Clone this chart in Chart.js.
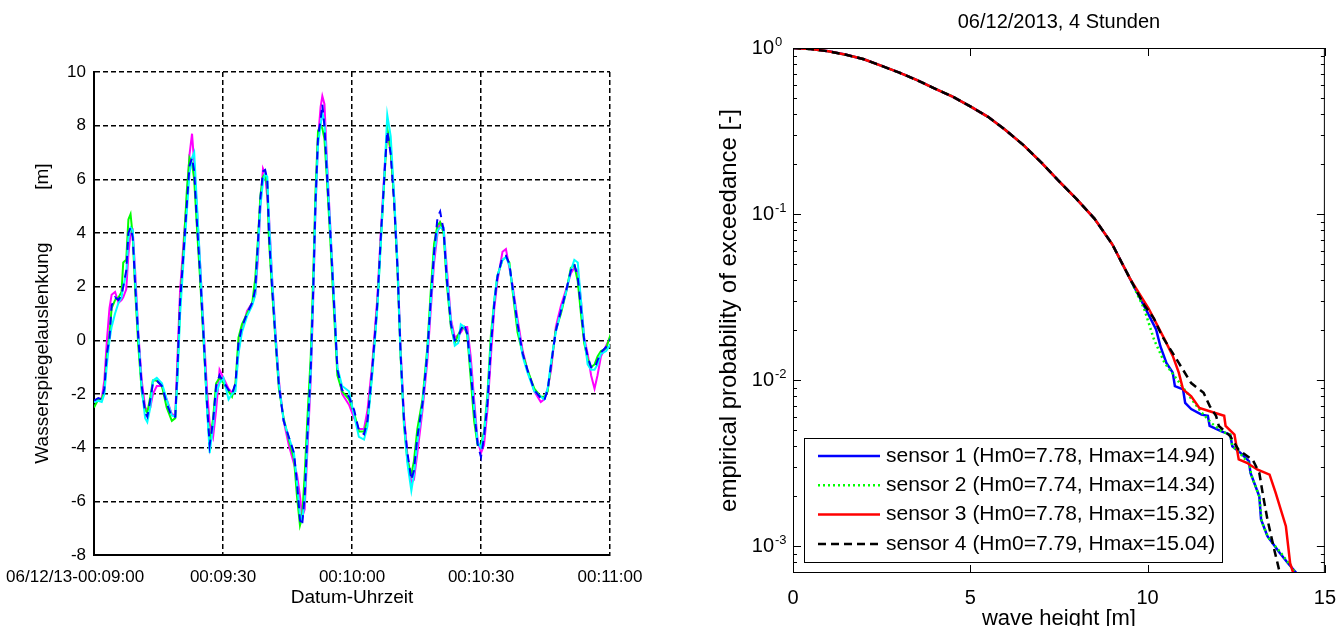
<!DOCTYPE html>
<html lang="de">
<head>
  <meta charset="UTF-8" />
  <title>Wasserspiegelauslenkung und Überschreitungswahrscheinlichkeit</title>
  <script src="https://cdn.jsdelivr.net/npm/chart.js"></script>
  <style>
    html, body { margin: 0; padding: 0; background: #fff; overflow: hidden; }
    #links { position: absolute; left: 0; top: 0; }
    #rechts { position: absolute; left: 660px; top: 0; }
  </style>
</head>
<body>
  <div id="links"><canvas id="graficoZeit" width="660" height="626"></canvas></div>
  <div id="rechts"><canvas id="graficoWellen" width="681" height="640"></canvas></div>

  <script>
    // --- linkes Diagramm: Zeitreihe (Sekunden ab 00:09:00) ---
    const zeit = [
      0, 1.0, 1.8, 2.4, 3.0, 3.6, 4.1, 4.9, 5.7, 6.4,
      6.8, 7.5, 8.0, 8.5, 9.0, 9.6, 10.3, 11.1, 11.9, 12.4,
      13.1, 13.7, 14.6, 15.8, 16.9, 18.1, 18.9, 19.4, 20.0, 20.8,
      21.6, 22.2, 22.8, 23.3, 23.9, 24.7, 25.5, 26.3, 26.9, 27.7,
      28.4, 29.2, 30.1, 31.3, 32.1, 32.9, 33.6, 34.4, 35.6, 36.8,
      37.5, 38.1, 38.7, 39.3, 39.8, 40.3, 40.7, 41.4, 42.2, 43.0,
      44.1, 45.3, 46.5, 47.2, 47.9, 48.4, 49.0, 49.6, 50.4, 51.0,
      51.5, 52.1, 52.7, 53.1, 53.6, 54.2, 55.0, 55.8, 56.6, 57.7,
      59.3, 60.5, 61.6, 62.8, 63.6, 64.7, 65.9, 66.7, 67.6, 68.2,
      69.0, 69.8, 70.6, 71.3, 72.1, 72.9, 73.8, 74.4, 75.2, 76.4,
      77.5, 78.3, 79.1, 79.9, 80.5, 81.3, 82.0, 83.0, 83.9, 84.7,
      85.3, 86.1, 86.8, 87.6, 88.4, 89.2, 90.0, 90.7, 91.5, 92.3,
      93.1, 93.8, 95.0, 95.8, 96.6, 97.3, 98.5, 99.7, 100.8, 102.4,
      103.9, 104.7, 105.5, 106.3, 107.4, 108.6, 109.8, 110.9, 111.7, 112.5,
      113.3, 114.0, 114.8, 115.6, 116.4, 117.1, 117.9, 119.1, 120.3, 120.9
    ];
    const sensorBlau = [
      -2.25, -2.15, -2.2, -1.8, -0.5, 0.1, 1.3, 1.6, 1.5, 1.7,
      2.0, 2.6, 4.0, 4.2, 3.85, 2.0, 0.1, -1.7, -2.7, -2.85,
      -2.2, -1.6, -1.5, -1.7, -2.35, -2.85, -2.85, -1.1, 1.4, 3.2,
      5.1, 6.5, 6.8, 6.3, 4.5, 2.4, 0.1, -2.4, -3.9, -3.0,
      -1.7, -1.3, -1.55, -1.85, -2.0, -1.6, -0.1, 0.5, 1.0, 1.4,
      1.9, 3.6, 5.3, 6.3, 6.35, 6.0, 3.9, 2.0, 0.1, -1.7,
      -3.0, -3.6, -4.2, -5.3, -6.7, -6.9, -5.8, -3.6, -1.1, 2.0,
      5.1, 7.6, 8.2, 8.8, 7.95, 6.1, 3.85, 1.4, -1.1, -1.85,
      -2.1, -2.6, -3.35, -3.5, -3.0, -1.1, 1.4, 3.85, 6.3, 7.8,
      6.95, 5.1, 2.6, -0.5, -3.0, -4.2, -5.2, -4.85, -3.6, -2.35,
      -0.5, 1.5, 3.3, 4.6, 4.8, 4.1, 2.35, 0.6, 0.0, 0.1,
      0.4, 0.6, 0.25, -1.1, -2.6, -3.85, -4.35, -3.6, -2.35, -0.25,
      1.4, 2.35, 3.1, 3.15, 2.85, 2.0, 0.6, -0.5, -1.1, -1.85,
      -2.15, -2.25, -1.85, -0.9, 0.35, 1.1, 1.85, 2.6, 2.85, 2.35,
      1.1, 0.0, -0.6, -1.0, -1.05, -0.75, -0.45, -0.25, 0.1, 0.35
    ];
    const sensorMagenta = [
      -2.3, -2.2, -2.15, -1.5, 0.0, 1.2, 1.7, 1.8, 1.4, 1.5,
      1.6, 1.9, 3.2, 4.0, 4.1, 2.5, 0.3, -1.5, -2.5, -2.6,
      -2.5, -2.0, -1.7, -1.7, -2.2, -2.75, -2.8, -0.7, 1.8, 3.6,
      5.3, 6.9, 7.7, 6.6, 5.0, 2.8, 0.4, -1.9, -3.1, -3.6,
      -2.6, -1.1, -1.4, -1.8, -1.95, -1.7, -0.4, 0.4, 1.1, 1.4,
      1.7, 3.0, 5.0, 6.4, 6.2, 5.3, 4.6, 2.4, 0.3, -1.5,
      -3.0, -3.9, -4.6, -5.0, -5.8, -6.6, -6.3, -4.2, -1.5, 1.6,
      4.8, 7.5, 8.7, 9.1, 8.8, 6.6, 4.1, 1.6, -1.0, -2.0,
      -2.4, -2.9, -3.3, -3.3, -2.6, -0.9, 1.6, 4.0, 6.5, 7.8,
      7.0, 5.3, 2.8, -0.3, -2.8, -4.3, -5.3, -5.2, -4.2, -2.6,
      -0.8, 1.1, 2.9, 4.0, 4.4, 4.2, 2.8, 0.8, 0.1, 0.2,
      0.3, 0.5, 0.5, -0.6, -2.2, -3.7, -4.2, -3.9, -2.6, -0.6,
      1.2, 2.2, 3.3, 3.4, 2.7, 2.1, 0.8, -0.4, -1.1, -1.9,
      -2.3, -2.2, -1.8, -1.1, 0.5, 1.3, 1.9, 2.5, 2.7, 2.6,
      1.4, 0.1, -0.5, -1.3, -1.8, -1.3, -0.6, -0.2, 0.2, 0.25
    ];
    const sensorGruen = [
      -2.5, -2.2, -2.2, -1.9, -0.6, 0.2, 1.2, 1.5, 1.6, 1.8,
      2.9, 3.0, 4.5, 4.7, 3.9, 1.8, -0.2, -1.9, -2.6, -2.7,
      -2.1, -1.5, -1.5, -1.7, -2.5, -3.0, -2.9, -1.3, 1.2, 3.3,
      5.6, 6.8, 6.6, 6.0, 4.3, 2.2, -0.1, -2.5, -3.9, -2.9,
      -1.6, -1.4, -1.6, -1.9, -2.1, -1.6, 0.1, 0.6, 1.0, 1.4,
      2.3, 3.7, 5.4, 6.1, 6.2, 5.7, 3.7, 1.9, 0.0, -1.8,
      -2.9, -3.7, -4.4, -5.8, -6.9, -6.6, -5.0, -3.0, -0.6, 2.5,
      5.5, 7.8, 8.0, 7.9, 7.5, 5.9, 3.6, 1.1, -1.3, -1.9,
      -2.2, -2.7, -3.4, -3.4, -3.0, -1.2, 1.3, 3.7, 6.2, 7.9,
      7.1, 5.2, 2.5, -0.6, -3.2, -4.5, -5.0, -4.5, -3.3, -2.2,
      -0.3, 1.8, 3.6, 4.3, 4.4, 4.0, 2.2, 0.5, -0.1, 0.2,
      0.4, 0.5, 0.2, -1.4, -3.0, -3.9, -3.9, -3.4, -2.0, 0.2,
      1.5, 2.4, 3.0, 3.1, 2.9, 1.9, 0.3, -0.5, -1.1, -1.8,
      -2.1, -2.1, -1.9, -0.9, 0.4, 1.0, 1.8, 2.7, 2.8, 2.2,
      0.9, -0.1, -0.7, -1.0, -0.9, -0.6, -0.4, -0.3, 0.3, 0.5
    ];
    const sensorCyan = [
      -2.3, -2.25, -2.3, -2.0, -0.9, 0.0, 0.5, 1.0, 1.4, 1.6,
      2.0, 2.5, 3.8, 4.2, 4.1, 2.2, 0.2, -1.8, -2.9, -3.05,
      -2.5, -1.5, -1.4, -1.6, -2.2, -2.8, -2.85, -1.5, 0.9, 2.9,
      4.8, 6.2, 6.8, 7.0, 5.2, 2.8, 0.2, -2.6, -4.2, -3.2,
      -2.0, -1.6, -1.4, -2.2, -2.0, -1.9, -0.5, 0.3, 0.9, 1.3,
      1.7, 3.3, 5.0, 5.9, 6.2, 6.1, 4.5, 2.3, 0.2, -1.6,
      -3.0, -3.6, -4.2, -5.3, -6.5, -6.7, -6.0, -3.8, -1.2, 1.9,
      5.0, 7.3, 8.0, 8.5, 8.1, 6.4, 4.0, 1.6, -1.0, -1.7,
      -1.9, -2.8, -3.6, -3.7, -3.2, -1.3, 1.2, 3.6, 6.4, 8.4,
      7.6, 5.4, 2.8, -0.5, -3.1, -4.6, -5.6, -5.0, -3.8, -2.4,
      -0.5, 1.4, 3.2, 4.1, 4.2, 4.2, 2.5, 0.7, -0.2, -0.1,
      0.6, 0.5, 0.3, -1.0, -2.5, -3.8, -4.0, -3.5, -2.2, -0.1,
      1.5, 2.4, 3.0, 3.1, 2.8, 2.0, 0.6, -0.6, -1.2, -1.9,
      -2.1, -2.2, -1.8, -0.8, 0.3, 1.1, 1.8, 2.6, 3.0, 2.9,
      1.4, 0.1, -0.9, -1.1, -1.1, -0.9, -0.5, -0.4, -0.1, 0.2
    ];
    const zeitLabels = ['06/12/13-00:09:00', '00:09:30', '00:10:00', '00:10:30', '00:11:00'];

    // --- rechtes Diagramm: Überschreitungswahrscheinlichkeit ---
    const hoeheOben = [0, 0.5, 1.0, 1.5, 2.0, 2.5, 3.0, 3.5, 4.0, 4.5, 5.0, 5.5, 6.0, 6.5, 7.0, 7.5, 8.0, 8.5, 9.0, 9.5];
    const pOben = [1.0, 0.985, 0.955, 0.91, 0.855, 0.78, 0.71, 0.64, 0.57, 0.51, 0.445, 0.385, 0.32, 0.26, 0.205, 0.158, 0.123, 0.094, 0.066, 0.041];

    const hoehe1 = [10.0, 10.24, 10.36, 10.53, 10.71, 10.77, 11.0, 11.06, 11.23, 11.52, 11.7, 11.75, 12.1, 12.33, 12.39, 12.62, 12.86, 12.9, 13.15, 13.2, 13.38, 13.73, 13.96, 14.3];
    const p1 = [0.0255, 0.0202, 0.016, 0.0127, 0.0111, 0.0092, 0.0088, 0.0073, 0.0067, 0.0062, 0.0061, 0.0053, 0.0049, 0.0047, 0.0040, 0.00365, 0.00325, 0.00277, 0.0020, 0.00145, 0.00115, 0.00091, 0.00079, 0.00065];
    const hoehe2 = [9.9, 10.18, 10.48, 10.83, 11.18, 11.52, 11.81, 12.1, 12.33, 12.39, 12.62, 12.88, 12.92, 13.15, 13.22, 13.4, 13.78, 14.0, 14.3];
    const p2 = [0.027, 0.0176, 0.0127, 0.0101, 0.008, 0.0064, 0.0055, 0.0049, 0.0047, 0.0040, 0.0036, 0.0031, 0.0027, 0.0020, 0.0014, 0.00113, 0.0009, 0.00078, 0.00063];
    const hoehe3 = [10.03, 10.48, 10.71, 10.88, 11.0, 11.23, 11.46, 11.75, 12.16, 12.2, 12.45, 12.57, 12.8, 13.09, 13.44, 13.61, 13.9, 14.02, 14.2];
    const p3 = [0.027, 0.0176, 0.014, 0.0111, 0.0088, 0.008, 0.0068, 0.0065, 0.0061, 0.0053, 0.0047, 0.00333, 0.00318, 0.0029, 0.0027, 0.0021, 0.00132, 0.00079, 0.0006];
    const hoehe4 = [9.9, 10.18, 10.41, 10.88, 11.23, 11.58, 11.75, 11.93, 12.01, 12.33, 12.57, 12.97, 13.15, 13.26, 13.38, 13.55, 13.73, 13.8];
    const p4 = [0.0285, 0.0235, 0.0184, 0.0127, 0.0096, 0.0084, 0.0070, 0.0061, 0.0053, 0.0046, 0.0038, 0.0033, 0.00277, 0.0020, 0.00145, 0.0010, 0.00069, 0.0006];

    const sensorNamen = [
      'sensor 1 (Hm0=7.78, Hmax=14.94)',
      'sensor 2 (Hm0=7.74, Hmax=14.34)',
      'sensor 3 (Hm0=7.78, Hmax=15.32)',
      'sensor 4 (Hm0=7.79, Hmax=15.04)'
    ];

    const schrift = 'Liberation Sans, Arial, sans-serif';

    function punkte(h, p) {
      return h.map((x, i) => ({ x: x, y: p[i] }));
    }
    function zeitreihe(werte) {
      return zeit.map((t, i) => ({ x: t, y: werte[i] }));
    }

    // linkes Diagramm
    new Chart(document.getElementById('graficoZeit'), {
      type: 'line',
      data: {
        datasets: [
          { data: zeitreihe(sensorMagenta), borderColor: '#ff00ff', borderWidth: 2, order: 3 },
          { data: zeitreihe(sensorGruen), borderColor: '#00ff00', borderWidth: 2, order: 2 },
          { data: zeitreihe(sensorCyan), borderColor: '#00ffff', borderWidth: 2, order: 1 },
          { data: zeitreihe(sensorBlau), borderColor: '#0000ff', borderWidth: 2, borderDash: [8, 6], order: 0 }
        ]
      },
      options: {
        responsive: false,
        animation: false,
        elements: { point: { radius: 0 }, line: { tension: 0 } },
        layout: { padding: { left: 0, top: 72, right: 50, bottom: 0 } },
        plugins: { legend: { display: false }, tooltip: { enabled: false } },
        scales: {
          x: {
            type: 'linear', min: 0, max: 120,
            afterFit(s) { s.height = 71; s.paddingLeft = 0; s.paddingRight = 0; },
            ticks: {
              stepSize: 30, autoSkip: false, maxRotation: 0, padding: 12, color: '#000',
              font: { family: schrift, size: 17 },
              // erstes Label steht in der Vorlage etwas nach links versetzt
              callback: v => v === 0 ? zeitLabels[0] + '        ' : zeitLabels[Math.round(v / 30)]
            },
            grid: { color: '#000', lineWidth: 1.5, drawTicks: false },
            border: { display: true, color: '#000', width: 2, dash: [5, 3] },
            title: { display: true, text: 'Datum-Uhrzeit', color: '#000', font: { family: schrift, size: 19 }, padding: { top: 0, bottom: 17 } }
          },
          y: {
            min: -8, max: 10,
            afterFit(s) { s.width = 94; },
            ticks: { stepSize: 2, padding: 8, color: '#000', font: { family: schrift, size: 17 } },
            grid: { color: '#000', lineWidth: 1.5, drawTicks: false },
            border: { display: true, color: '#000', width: 2, dash: [5, 3] },
            title: { display: true, text: 'Wasserspiegelauslenkung          [m]', color: '#000', font: { family: schrift, size: 19 }, padding: { top: 31, bottom: 0 } }
          }
        }
      }
    });

    // Rahmen, Ticks nach innen, 10^n-Beschriftung und Legende
    const rahmenPlugin = {
      id: 'rahmen',
      afterDraw(chart) {
        const { ctx, chartArea: a, scales: { x, y } } = chart;
        ctx.save();
        ctx.strokeStyle = '#000';
        ctx.lineWidth = 1;
        ctx.setLineDash([]);
        ctx.strokeRect(a.left + 0.5, a.top + 0.5, a.width - 1, a.height - 1);

        const strich = (x1, y1, x2, y2) => { ctx.beginPath(); ctx.moveTo(x1, y1); ctx.lineTo(x2, y2); ctx.stroke(); };

        for (let e = -4; e <= 0; e++) {
          for (let m = 1; m <= 9; m++) {
            const v = m * Math.pow(10, e);
            if (v < y.min || v > y.max) continue;
            const py = Math.round(y.getPixelForValue(v)) + 0.5;
            const len = m === 1 ? 8 : 4;
            strich(a.left, py, a.left + len, py);
            strich(a.right, py, a.right - len, py);
            if (m === 1) {
              ctx.fillStyle = '#000';
              ctx.font = '20px ' + schrift;
              ctx.textAlign = 'right';
              ctx.textBaseline = 'middle';
              ctx.fillText('10', a.left - 19, py);
              ctx.font = '13px ' + schrift;
              ctx.textAlign = 'left';
              ctx.textBaseline = 'alphabetic';
              ctx.fillText(String(e), a.left - 18, py - 3);
            }
          }
        }
        x.ticks.forEach(t => {
          const px = Math.round(x.getPixelForValue(t.value)) + 0.5;
          strich(px, a.bottom, px, a.bottom - 8);
          strich(px, a.top, px, a.top + 8);
        });

        // Legende
        const bx = a.left + 11, bw = 418, bh = 124;
        const by = a.bottom - 11 - bh;
        ctx.fillStyle = '#fff';
        ctx.fillRect(bx, by, bw, bh);
        ctx.strokeRect(bx + 0.5, by + 0.5, bw, bh);
        chart.data.datasets.forEach((ds, i) => {
          const zy = by + 18 + i * 29.3;
          ctx.save();
          ctx.strokeStyle = ds.borderColor;
          ctx.lineWidth = ds.borderWidth;
          ctx.setLineDash(ds.borderDash || []);
          strich(bx + 14, zy, bx + 76, zy);
          ctx.restore();
          ctx.fillStyle = '#000';
          ctx.font = '21px ' + schrift;
          ctx.textAlign = 'left';
          ctx.textBaseline = 'middle';
          ctx.fillText(ds.label, bx + 82, zy);
        });
        ctx.restore();
      }
    };

    // rechtes Diagramm
    new Chart(document.getElementById('graficoWellen'), {
      type: 'line',
      data: {
        datasets: [
          { label: sensorNamen[0], data: punkte(hoeheOben.concat(hoehe1), pOben.concat(p1)), borderColor: '#0000ff', borderWidth: 2.5, order: 3 },
          { label: sensorNamen[1], data: punkte(hoeheOben.concat(hoehe2), pOben.concat(p2)), borderColor: '#00ff00', borderWidth: 2.5, borderDash: [2, 3], order: 2 },
          { label: sensorNamen[2], data: punkte(hoeheOben.concat(hoehe3), pOben.concat(p3)), borderColor: '#ff0000', borderWidth: 2.5, order: 1 },
          { label: sensorNamen[3], data: punkte(hoeheOben.concat(hoehe4), pOben.concat(p4)), borderColor: '#000000', borderWidth: 2.5, borderDash: [8, 5], order: 0 }
        ]
      },
      options: {
        responsive: false,
        animation: false,
        elements: { point: { radius: 0 }, line: { tension: 0 } },
        layout: { padding: { left: 0, top: 0, right: 11, bottom: 0 } },
        plugins: {
          legend: { display: false },
          tooltip: { enabled: false },
          title: {
            display: true, fullSize: false, text: '06/12/2013, 4 Stunden', color: '#000',
            font: { family: schrift, size: 20, weight: 'normal' },
            padding: { top: 10, bottom: 14 }
          }
        },
        scales: {
          x: {
            type: 'linear', min: 0, max: 15,
            afterFit(s) { s.height = 67; },
            ticks: { stepSize: 5, padding: 5, color: '#000', font: { family: schrift, size: 20 } },
            grid: { display: false },
            border: { display: false },
            title: { display: true, text: 'wave height [m]', color: '#000', font: { family: schrift, size: 22 }, padding: { top: 0, bottom: 8 } }
          },
          y: {
            type: 'logarithmic', min: 0.00069, max: 1,
            afterFit(s) { s.width = 133; },
            ticks: { display: false },
            grid: { display: false },
            border: { display: false },
            title: { display: true, text: 'empirical probability of exceedance [-]', color: '#000', font: { family: schrift, size: 24 }, padding: { top: 55, bottom: 0 } }
          }
        }
      },
      plugins: [rahmenPlugin]
    });
  </script>
</body>
</html>
